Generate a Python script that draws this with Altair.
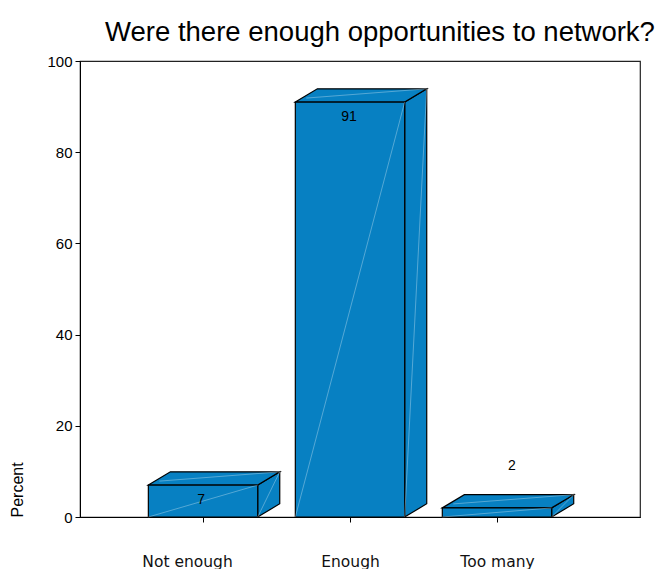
import altair as alt
import pandas as pd

categories = ["Not enough", "Enough", "Too many"]
percents = [7, 91, 2]
y_ticks = [0, 20, 40, 60, 80, 100]

# style parameters (depth of the 3D effect in data units)
HW = 0.372     # half bar width (x units)
DX = 0.15      # depth offset x
DY = 2.9       # depth offset y
FILL = "#0780C2"

idx = list(range(len(categories)))
front = pd.DataFrame({
    "cat": categories,
    "i": idx,
    "v": percents,
    "xL": [i - HW for i in idx],
    "xR": [i + HW for i in idx],
})
front["zero"] = 0

side_rows, top_rows, hl_rows = [], [], []
for c, i, v in zip(categories, idx, percents):
    xl, xr = i - HW, i + HW
    side_rows += [
        {"cat": c, "x": xr, "yt": v, "yb": 0},
        {"cat": c, "x": xr + DX, "yt": v + DY, "yb": DY},
    ]
    top_rows += [
        {"cat": c, "x": xl, "yt": v, "yb": v},
        {"cat": c, "x": xl + DX, "yt": v + DY, "yb": v},
        {"cat": c, "x": xr, "yt": v + DY, "yb": v},
        {"cat": c, "x": xr + DX, "yt": v + DY, "yb": v + DY},
    ]
    hl_rows += [
        {"cat": c, "x1": xl, "y1": 0, "x2": xr, "y2": v},
        {"cat": c, "x1": xr, "y1": 0, "x2": xr + DX, "y2": v + DY},
        {"cat": c, "x1": xl + DX * 0.5, "y1": v + DY * 0.3, "x2": xr + DX, "y2": v + DY},
    ]
side = pd.DataFrame(side_rows)
top = pd.DataFrame(top_rows)
hl = pd.DataFrame(hl_rows)

label_expr = "datum.value == 0 ? '" + categories[0] + "' : datum.value == 1 ? '" + categories[1] + "' : '" + categories[2] + "'"

xscale = alt.Scale(domain=[-0.837, 2.973], nice=False, zero=False)
yscale = alt.Scale(domain=[0, 100], nice=False)

xaxis = alt.Axis(values=idx, labelExpr=label_expr, grid=False, title=None,
                 labelFont="DejaVu Sans", labelFontSize=15.5, labelColor="#111",
                 labelPadding=32, tickSize=5, tickColor="black", domainColor="black",
                 labelOffset={"condition": {"test": "datum.value == 0", "value": -16}, "value": 0})
yaxis = alt.Axis(values=y_ticks, grid=False, title="Percent", titleAnchor="start",
                 titleFont="Arial", titleFontSize=16, titleFontWeight="normal",
                 titleColor="black", titlePadding=21,
                 labelFont="Arial", labelFontSize=15, labelColor="black",
                 tickSize=5, tickColor="black", domainColor="black", labelPadding=3)

front_layer = alt.Chart(front).mark_rect(fill=FILL, stroke="black", strokeWidth=1.2).encode(
    x=alt.X("xL:Q", scale=xscale, axis=xaxis),
    x2="xR:Q",
    y=alt.Y("zero:Q", scale=yscale, axis=yaxis),
    y2="v:Q",
)

side_layer = alt.Chart(side).mark_area(fill=FILL, stroke="black", strokeWidth=1.2, opacity=1).encode(
    x=alt.X("x:Q", scale=xscale, axis=xaxis),
    y=alt.Y("yt:Q", scale=yscale, axis=yaxis),
    y2="yb:Q",
    detail="cat:N",
)

top_layer = alt.Chart(top).mark_area(fill=FILL, stroke="black", strokeWidth=1.2, opacity=1).encode(
    x=alt.X("x:Q", scale=xscale, axis=xaxis),
    y=alt.Y("yt:Q", scale=yscale, axis=yaxis),
    y2="yb:Q",
    detail="cat:N",
)

hl_layer = alt.Chart(hl).mark_rule(color="white", strokeWidth=0.7, opacity=0.45).encode(
    x=alt.X("x1:Q", scale=xscale, axis=xaxis),
    x2="x2:Q",
    y=alt.Y("y1:Q", scale=yscale, axis=yaxis),
    y2="y2:Q",
)

def text_layer(cat, dx, dy):
    return alt.Chart(front).transform_filter(alt.datum.cat == cat).mark_text(
        font="Arial", fontSize=14, color="black", dx=dx, dy=dy, baseline="middle"
    ).encode(
        x=alt.X("i:Q", scale=xscale, axis=xaxis),
        y=alt.Y("v:Q", scale=yscale, axis=yaxis),
        text="v:Q",
    )

texts = (text_layer(categories[0], -2, 15) + text_layer(categories[1], -1, 15)
         + text_layer(categories[2], 15, -42))

chart = alt.layer(side_layer, top_layer, front_layer, hl_layer, texts).properties(
    width=560, height=456,
    title=alt.TitleParams("Were there enough opportunities to network?", font="Arial",
                          fontSize=27.5, fontWeight="normal", color="black", dx=20, offset=8),
    autosize=alt.AutoSizeParams(type="none"),
    padding={"left": 72, "top": 53, "right": 16, "bottom": 52},
).configure(background="white").configure_view(stroke="#222", strokeWidth=1.2)

chart.save("out.html", embed_options={"renderer": "svg", "actions": False})
